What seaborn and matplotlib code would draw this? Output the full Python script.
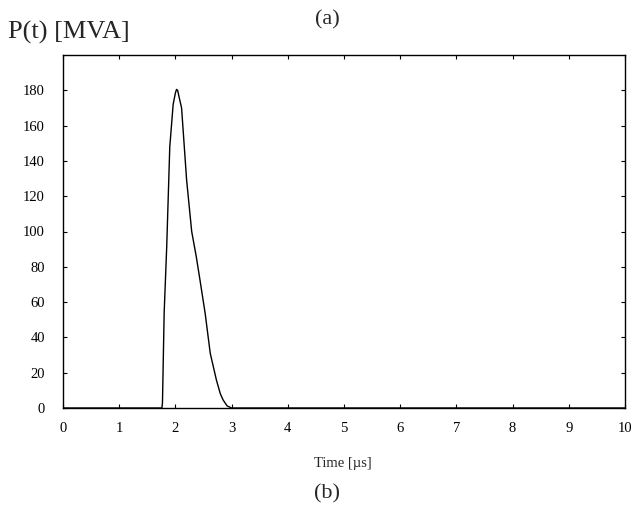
import matplotlib
matplotlib.use("Agg")
import matplotlib.pyplot as plt
import seaborn as sns
import pandas as pd

time_us = [0.0, 1.76, 1.77, 1.80, 1.845, 1.90, 1.96, 2.00, 2.02, 2.04, 2.06, 2.11, 2.20, 2.29,
           2.37, 2.44, 2.53, 2.62, 2.73, 2.80, 2.85, 2.92, 3.00, 10.0]
power_mva = [0.0, 0.0, 3.0, 54.0, 91.0, 148.0, 172.0, 178.5, 180.5, 180.0, 177.0, 170.0, 129.0, 100.0,
             86.0, 72.0, 53.5, 31.0, 15.8, 8.0, 4.5, 1.2, 0.0, 0.0]

x_ticks = list(range(0, 11))
y_ticks = list(range(0, 181, 20))

sns.set_style("ticks")
plt.rcParams['font.family'] = ['Liberation Serif', 'DejaVu Serif']

df = pd.DataFrame({"t": time_us, "p": power_mva})

fig = plt.figure(figsize=(6.35, 5.14), dpi=100)
ax = fig.add_axes([63/635, 1-408/514, (625-63)/635, (408-55)/514])
sns.lineplot(data=df, x="t", y="p", ax=ax, color="black", linewidth=1.0)

ax.set_xlim(0, 10)
ax.set_ylim(0, 200)
ax.set_xticks(x_ticks)
ax.set_yticks(y_ticks)
ax.tick_params(direction="in", top=True, right=True, labelsize=10.5, length=3, width=0.8, colors="black")
ax.tick_params(axis="x", pad=10)
ax.tick_params(axis="y", pad=13)
for s in ax.spines.values():
    s.set_visible(True)
    s.set_linewidth(1.0)
    s.set_color("black")
ax.set_xlabel("")
ax.set_ylabel("")

fig.text(343/635, 1-463/514, "Time [µs]", ha="center", va="center", fontsize=10.5)
fig.text(8/635, 1-32/514, "P(t) [MVA]", ha="left", va="center", fontsize=19)
fig.text(327/635, 1-20/514, "(a)", ha="center", va="center", fontsize=16)
fig.text(327/635, 1-494/514, "(b)", ha="center", va="center", fontsize=16)

fig.savefig("out.png", dpi=100)
